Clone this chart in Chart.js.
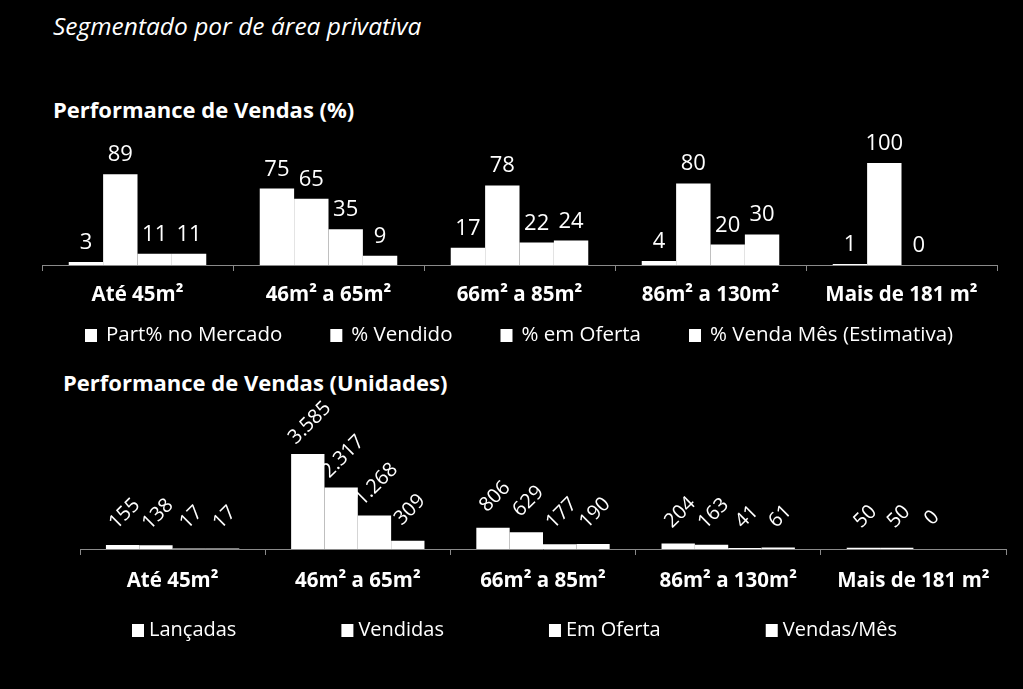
<!DOCTYPE html>
<html>
<head>
<meta charset="utf-8">
<script src="https://cdn.jsdelivr.net/npm/chart.js@4"></script>
<style>
  html, body { margin: 0; padding: 0; background: #000; width: 1023px; height: 689px; overflow: hidden; }
  .txt { position: absolute; color: #fff; font-family: "Open Sans", sans-serif; white-space: nowrap; }
  .box { position: absolute; left: 0; width: 1023px; }
</style>
</head>
<body>
<div class="txt" style="left:53px; top:9px; font-size:24.5px; font-style:italic;">Segmentado por de área privativa</div>
<div class="txt" style="left:53px; top:94px; font-size:22px; font-weight:bold;">Performance de Vendas (%)</div>
<div class="txt" style="left:63px; top:367px; font-size:22px; font-weight:bold;">Performance de Vendas (Unidades)</div>
<div class="box" style="top:120px; height:240px;"><canvas id="grafPerc"></canvas></div>
<div class="box" style="top:400px; height:244px;"><canvas id="grafUnid"></canvas></div>
<script>
  // categorias (faixas de área)
  const faixas = ["Até 45m²", "46m² a 65m²", "66m² a 85m²", "86m² a 130m²", "Mais de 181 m²"];

  // Performance de Vendas (%)
  const partMercado = [3, 75, 17, 4, 1];
  const pctVendido = [89, 65, 78, 80, 100];
  const pctOferta = [11, 35, 22, 20, 0];
  const pctVendaMes = [11, 9, 24, 30, null];

  // Performance de Vendas (Unidades)
  const lancadas = [155, 3585, 806, 204, 50];
  const vendidas = [138, 2317, 629, 163, 50];
  const emOferta = [17, 1268, 177, 41, 0];
  const vendasMes = [17, 309, 190, 61, null];

  const fonte = "'Open Sans', sans-serif";

  function fmt(v) {
    return String(v).replace(/\B(?=(\d{3})+(?!\d))/g, ".");
  }

  // rótulos de valor sobre as barras
  const rotulos = {
    id: "rotulos",
    afterDatasetsDraw(chart, args, opts) {
      const ctx = chart.ctx;
      ctx.save();
      ctx.fillStyle = "#fff";
      ctx.font = opts.size + "px " + fonte;
      chart.data.datasets.forEach((ds, i) => {
        chart.getDatasetMeta(i).data.forEach((bar, j) => {
          const v = ds.data[j];
          if (v === null || v === undefined) return;
          if (opts.rotate) {
            ctx.save();
            ctx.translate(bar.x + 2, bar.y - 31);
            ctx.rotate(-Math.PI / 4);
            ctx.textAlign = "center";
            ctx.textBaseline = "middle";
            ctx.fillText(fmt(v), 0, 0);
            ctx.restore();
          } else {
            ctx.textAlign = "center";
            ctx.textBaseline = "alphabetic";
            ctx.fillText(fmt(v), bar.x, bar.y - 13);
          }
        });
      });
      ctx.restore();
    }
  };

  // legenda desenhada na parte de baixo do canvas
  const legenda = {
    id: "legenda",
    afterDraw(chart, args, opts) {
      const ctx = chart.ctx;
      ctx.save();
      ctx.font = opts.size + "px " + fonte;
      ctx.fillStyle = "#fff";
      ctx.textBaseline = "middle";
      const nomes = chart.data.datasets.map(d => d.label);
      let x = opts.x;
      nomes.forEach(n => {
        ctx.fillRect(x, opts.y - 6, 12, 13);
        ctx.textAlign = "left";
        ctx.fillText(n, x + opts.off, opts.y);
        x += opts.off + ctx.measureText(n).width + opts.gap;
      });
      ctx.restore();
    }
  };

  function criaGrafico(id, series, nomes, yMax, pad, rotate, leg) {
    return new Chart(document.getElementById(id), {
      type: "bar",
      data: {
        labels: faixas,
        datasets: series.map((s, i) => ({
          label: nomes[i],
          data: s,
          backgroundColor: "#fff",
          borderWidth: 0,
          categoryPercentage: 0.72,
          barPercentage: 1.0
        }))
      },
      options: {
        responsive: true,
        maintainAspectRatio: false,
        animation: false,
        layout: { padding: pad },
        plugins: {
          legend: { display: false },
          tooltip: { enabled: false },
          rotulos: { size: rotate ? 20 : 22, rotate: rotate },
          legenda: leg
        },
        scales: {
          y: { display: false, min: 0, max: yMax },
          x: {
            afterFit: function (scale) { scale.height = 45; },
            border: { display: true, color: "#8a8a8a", width: 1 },
            grid: { display: true, drawOnChartArea: false, drawTicks: true, tickLength: 6, color: "#8a8a8a", offset: true },
            ticks: { color: "#fff", padding: rotate ? 14 : 12, font: { family: fonte, size: 20.5, weight: "bold" } }
          }
        }
      },
      plugins: [rotulos, legenda]
    });
  }

  criaGrafico("grafPerc",
    [partMercado, pctVendido, pctOferta, pctVendaMes],
    ["Part% no Mercado", "% Vendido", "% em Oferta", "% Venda Mês (Estimativa)"],
    100, { top: 43, left: 42, right: 26, bottom: 50 }, false,
    { x: 85, y: 215, off: 21, gap: 48, size: 20.5 });

  criaGrafico("grafUnid",
    [lancadas, vendidas, emOferta, vendasMes],
    ["Lançadas", "Vendidas", "Em Oferta", "Vendas/Mês"],
    4000, { top: 43, left: 80, right: 17, bottom: 50 }, true,
    { x: 132, y: 230, off: 17, gap: 105, size: 20 });
</script>
</body>
</html>
